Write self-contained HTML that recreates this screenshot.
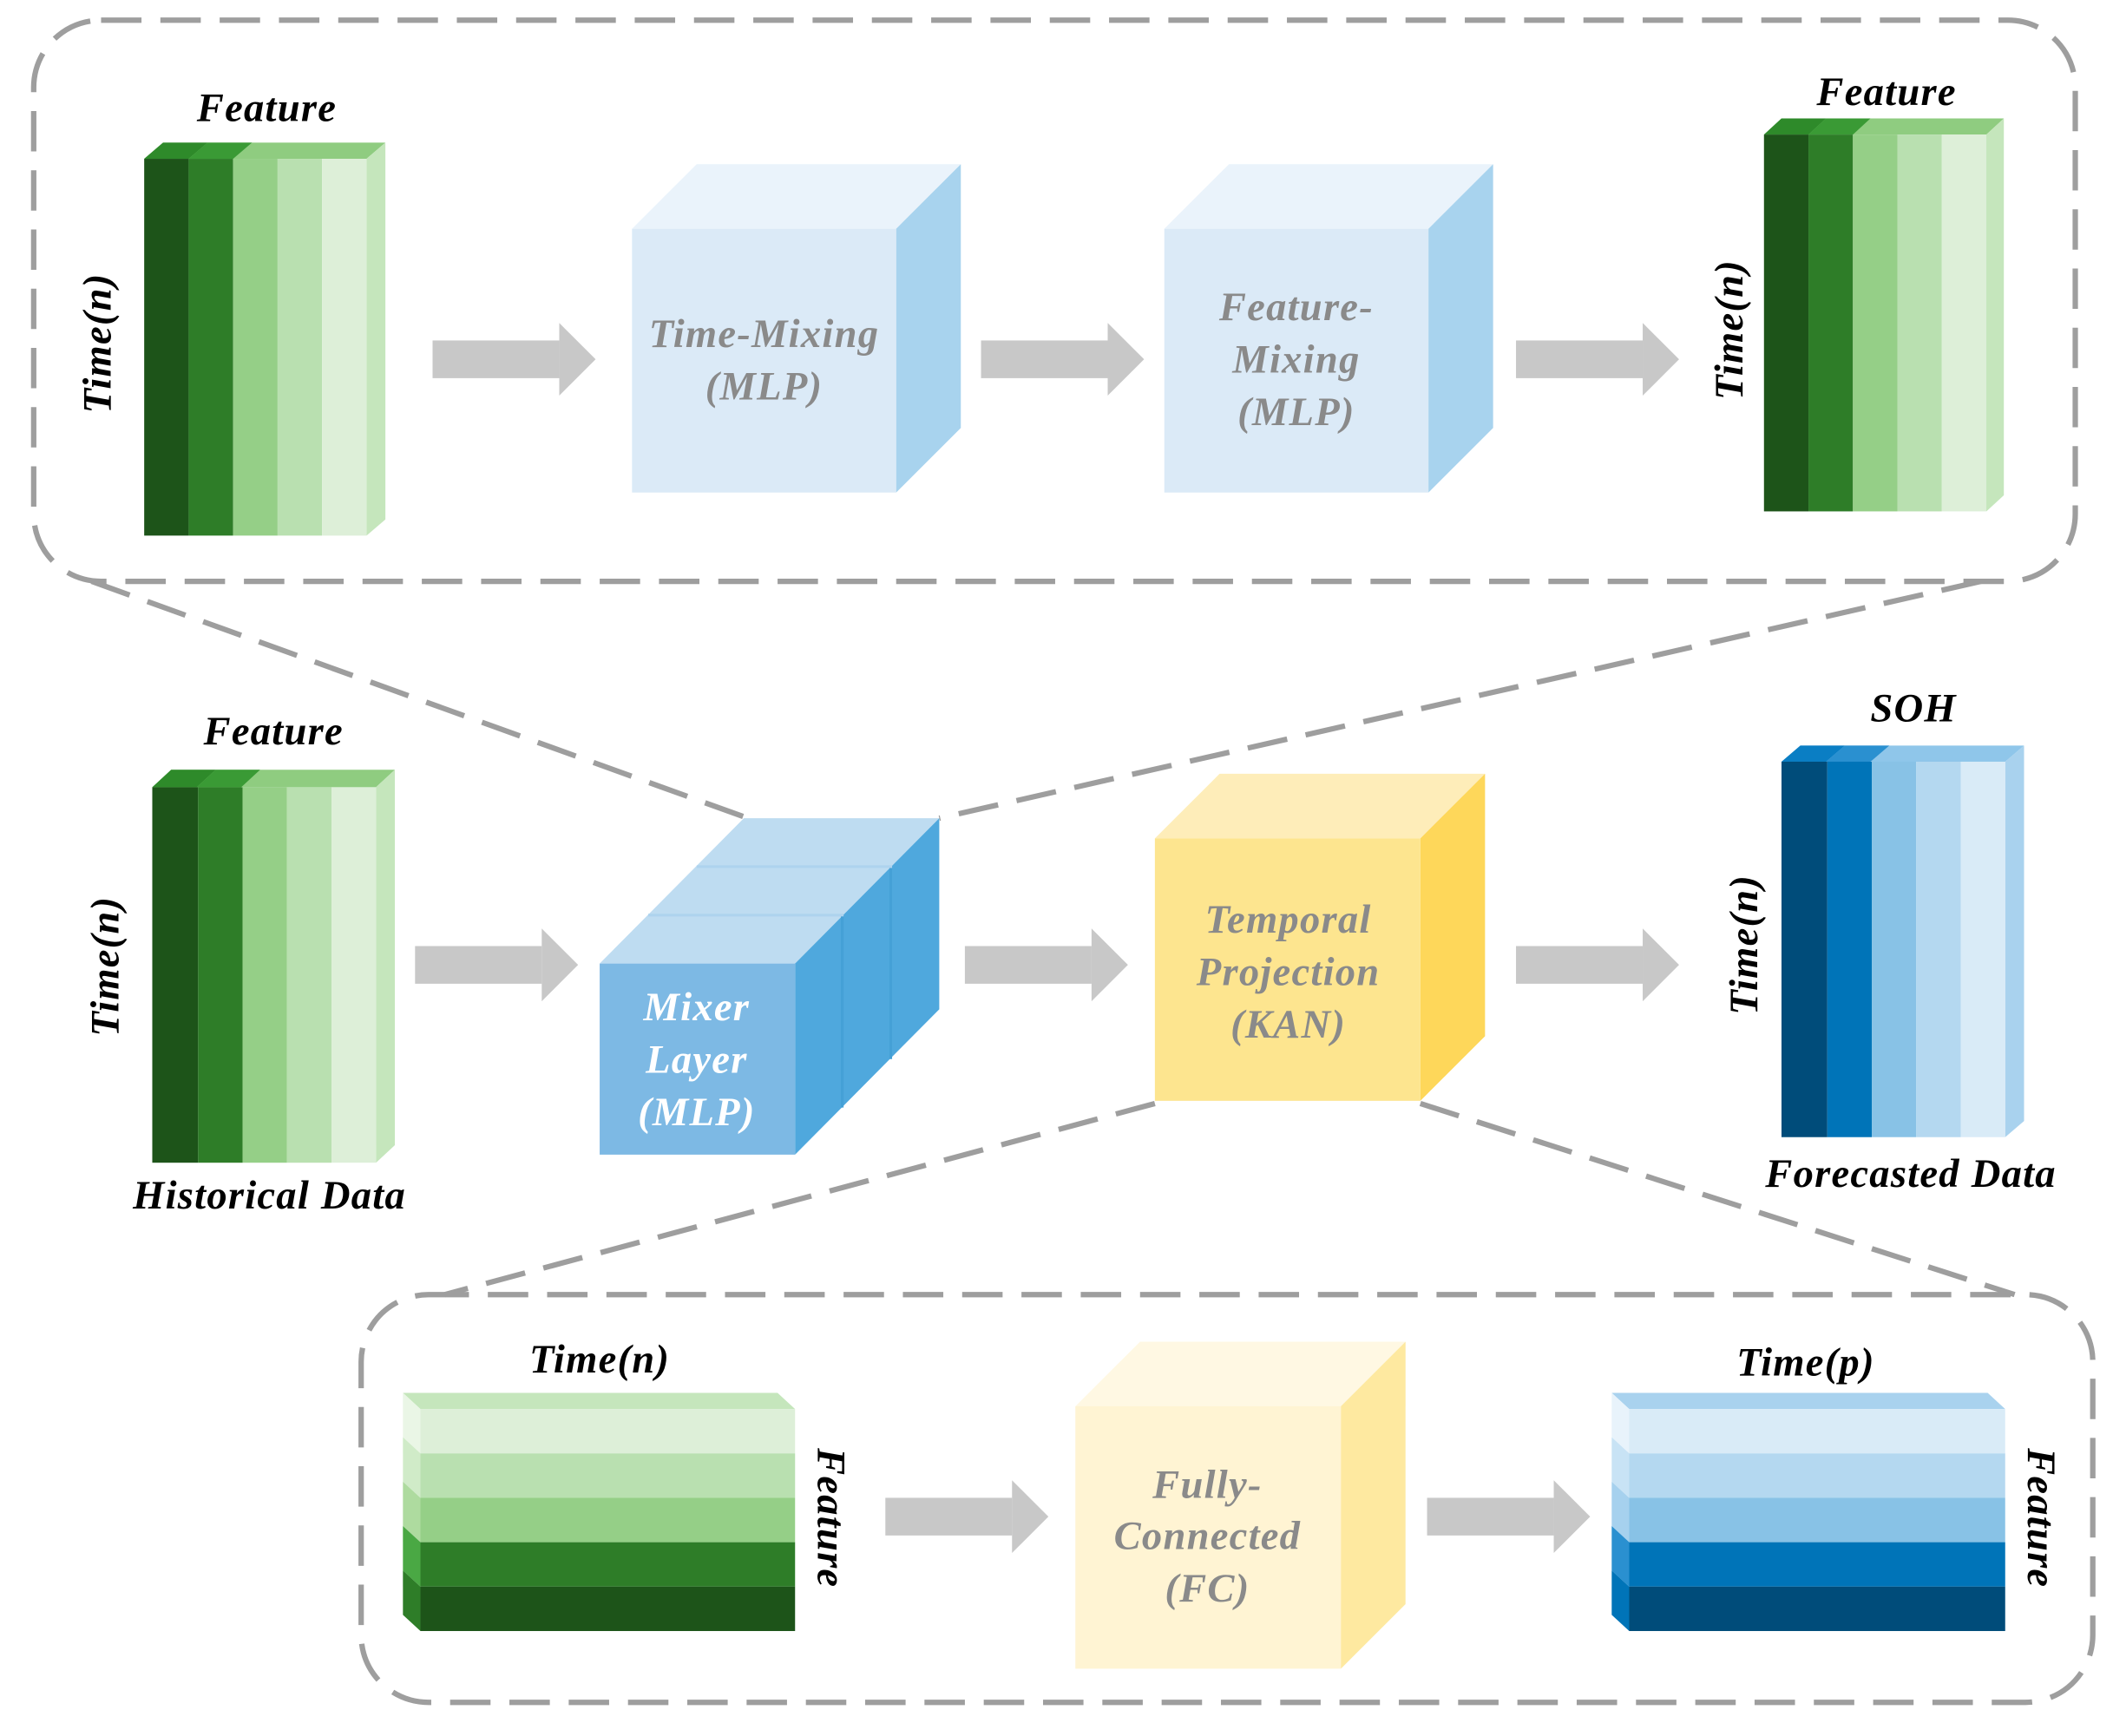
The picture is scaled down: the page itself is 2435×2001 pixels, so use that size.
<!DOCTYPE html>
<html><head><meta charset="utf-8"><style>
html,body{margin:0;padding:0;background:#fff}
svg{display:block}
text{font-family:"Liberation Serif",serif;font-style:italic;font-weight:bold;letter-spacing:0.8px}
</style></head><body>
<svg width="2435" height="2001" viewBox="0 0 1568 1290" preserveAspectRatio="none" xmlns="http://www.w3.org/2000/svg">
<defs>
<g id="arr"><rect x="0" y="-14" width="94" height="28" fill="#c8c8c8"/><polygon points="94,-27 121,0 94,27" fill="#c8c8c8"/></g>
</defs>
<g fill="none" stroke="#9e9e9e" stroke-width="4" stroke-dasharray="30 14">
<rect x="25" y="15" width="1515" height="417" rx="50"/>
<rect x="268" y="962" width="1285" height="303" rx="50"/>
<line x1="68" y1="432" x2="555" y2="608"/>
<line x1="1470" y1="432" x2="697" y2="608"/>
<line x1="857" y1="820" x2="330" y2="962"/>
<line x1="1054" y1="820" x2="1495" y2="962"/>
</g>

<g>
<polygon points="107,118 121,106 286,106 272,118" fill="#8fcc80"/>
<polygon points="107,118 121,106 154,106 140,118" fill="#2e8a2a"/>
<polygon points="140,118 154,106 187,106 173,118" fill="#3a9a35"/>
<polygon points="272,118 286,106 286,386 272,398" fill="#c5e6bc"/>
<rect x="107" y="118" width="33" height="280" fill="#1d5419"/>
<rect x="140" y="118" width="33" height="280" fill="#2e7d28"/>
<rect x="173" y="118" width="33" height="280" fill="#95cf87"/>
<rect x="206" y="118" width="33" height="280" fill="#b9e0b0"/>
<rect x="239" y="118" width="33" height="280" fill="#ddefd8"/>
</g>
<text x="198" y="90" font-size="30" text-anchor="middle">Feature</text>
<text transform="translate(82,255) rotate(-90)" font-size="30" text-anchor="middle">Time(n)</text>

<use href="#arr" x="321" y="267"/>
<polygon points="469,170 517,122 713,122 665,170" fill="#eaf3fb"/>
<polygon points="665,170 713,122 713,318 665,366" fill="#a8d3ee"/>
<rect x="469" y="170" width="196" height="196" fill="#dbeaf7"/>
<g fill="#8a8a8a" font-size="30" text-anchor="middle">
<text x="567" y="258">Time-Mixing</text><text x="567" y="297">(MLP)</text></g>

<use href="#arr" x="728" y="267"/>
<polygon points="864,170 912,122 1108,122 1060,170" fill="#eaf3fb"/>
<polygon points="1060,170 1108,122 1108,318 1060,366" fill="#a8d3ee"/>
<rect x="864" y="170" width="196" height="196" fill="#dbeaf7"/>
<g fill="#8a8a8a" font-size="30" text-anchor="middle">
<text x="962" y="238">Feature-</text><text x="962" y="277">Mixing</text><text x="962" y="316">(MLP)</text></g>

<use href="#arr" x="1125" y="267"/>
<g>
<polygon points="1309,100 1322,88 1487,88 1474,100" fill="#8fcc80"/>
<polygon points="1309,100 1322,88 1355,88 1342,100" fill="#2e8a2a"/>
<polygon points="1342,100 1355,88 1388,88 1375,100" fill="#3a9a35"/>
<polygon points="1474,100 1487,88 1487,368 1474,380" fill="#c5e6bc"/>
<rect x="1309" y="100" width="33" height="280" fill="#1d5419"/>
<rect x="1342" y="100" width="33" height="280" fill="#2e7d28"/>
<rect x="1375" y="100" width="33" height="280" fill="#95cf87"/>
<rect x="1408" y="100" width="33" height="280" fill="#b9e0b0"/>
<rect x="1441" y="100" width="33" height="280" fill="#ddefd8"/>
</g>
<text x="1400" y="78" font-size="30" text-anchor="middle">Feature</text>
<text transform="translate(1293,245) rotate(-90)" font-size="30" text-anchor="middle">Time(n)</text>

<g>
<polygon points="113,585 127,572 293,572 279,585" fill="#8fcc80"/>
<polygon points="113,585 127,572 160,572 146,585" fill="#2e8a2a"/>
<polygon points="146,585 160,572 193,572 179,585" fill="#3a9a35"/>
<polygon points="279,585 293,572 293,851 279,864" fill="#c5e6bc"/>
<rect x="113" y="585" width="34" height="279" fill="#1d5419"/>
<rect x="147" y="585" width="33" height="279" fill="#2e7d28"/>
<rect x="180" y="585" width="33" height="279" fill="#95cf87"/>
<rect x="213" y="585" width="33" height="279" fill="#b9e0b0"/>
<rect x="246" y="585" width="33" height="279" fill="#ddefd8"/>
</g>
<text x="203" y="553" font-size="30" text-anchor="middle">Feature</text>
<text x="200" y="898" font-size="30" text-anchor="middle">Historical Data</text>
<text transform="translate(88,718) rotate(-90)" font-size="30" text-anchor="middle">Time(n)</text>

<use href="#arr" x="308" y="717"/>
<polygon points="445,716 552,608 697,608 590,716" fill="#bedcf1"/>
<polygon points="590,716 697,608 697,750 590,858" fill="#4fa8dd"/>
<line x1="481" y1="680" x2="626" y2="680" stroke="#aed3ee" stroke-width="2"/>
<line x1="517" y1="644" x2="662" y2="644" stroke="#aed3ee" stroke-width="2"/>
<line x1="625" y1="681" x2="625" y2="823" stroke="#45a0d6" stroke-width="2"/>
<line x1="661" y1="645" x2="661" y2="787" stroke="#45a0d6" stroke-width="2"/>
<rect x="445" y="716" width="145" height="142" fill="#7db9e4"/>
<g fill="#fff" font-size="30" text-anchor="middle">
<text x="517" y="758">Mixer</text><text x="517" y="797">Layer</text><text x="517" y="836">(MLP)</text></g>

<use href="#arr" x="716" y="717"/>
<polygon points="857,623 905,575 1102,575 1054,623" fill="#feedb9"/>
<polygon points="1054,623 1102,575 1102,770 1054,818" fill="#fed75a"/>
<rect x="857" y="623" width="197" height="195" fill="#fde58f"/>
<g fill="#8a8a8a" font-size="30" text-anchor="middle">
<text x="956" y="693">Temporal</text><text x="956" y="732">Projection</text><text x="956" y="771">(KAN)</text></g>

<use href="#arr" x="1125" y="717"/>
<g>
<polygon points="1322,566 1336,554 1502,554 1488,566" fill="#8fc6ea"/>
<polygon points="1322,566 1336,554 1369,554 1355,566" fill="#0a7ec4"/>
<polygon points="1355,566 1369,554 1402,554 1388,566" fill="#2a90d0"/>
<polygon points="1488,566 1502,554 1502,833 1488,845" fill="#a9d2ee"/>
<rect x="1322" y="566" width="34" height="279" fill="#004c7a"/>
<rect x="1356" y="566" width="33" height="279" fill="#0074b8"/>
<rect x="1389" y="566" width="33" height="279" fill="#88c2e6"/>
<rect x="1422" y="566" width="33" height="279" fill="#b4d8f0"/>
<rect x="1455" y="566" width="33" height="279" fill="#d9ebf7"/>
</g>
<text x="1420" y="536" font-size="30" text-anchor="middle">SOH</text>
<text x="1418" y="882" font-size="30" text-anchor="middle">Forecasted Data</text>
<text transform="translate(1304,702) rotate(-90)" font-size="30" text-anchor="middle">Time(n)</text>

<g>
<polygon points="299,1035 577,1035 590,1047 312,1047" fill="#c5e6bc"/>
<polygon points="299,1035 312,1047 312,1080 299,1068" fill="#eaf6e6"/>
<polygon points="299,1068 312,1080 312,1113 299,1101" fill="#d0ebc8"/>
<polygon points="299,1101 312,1113 312,1146 299,1134" fill="#aedb9f"/>
<polygon points="299,1134 312,1146 312,1179 299,1167" fill="#4aa844"/>
<polygon points="299,1167 312,1179 312,1212 299,1200" fill="#2e7d28"/>
<rect x="312" y="1047" width="278" height="33" fill="#ddefd8"/>
<rect x="312" y="1080" width="278" height="33" fill="#b9e0b0"/>
<rect x="312" y="1113" width="278" height="33" fill="#95cf87"/>
<rect x="312" y="1146" width="278" height="33" fill="#2e7d28"/>
<rect x="312" y="1179" width="278" height="33" fill="#1d5419"/>
</g>
<text x="445" y="1020" font-size="30" text-anchor="middle">Time(n)</text>
<text transform="translate(607,1128) rotate(90)" font-size="30" text-anchor="middle">Feature</text>

<use href="#arr" x="657" y="1127"/>
<polygon points="798,1045 846,997 1043,997 995,1045" fill="#fff8e3"/>
<polygon points="995,1045 1043,997 1043,1192 995,1240" fill="#fee9a0"/>
<rect x="798" y="1045" width="197" height="195" fill="#fff4d3"/>
<g fill="#8a8a8a" font-size="30" text-anchor="middle">
<text x="896" y="1113">Fully-</text><text x="896" y="1151">Connected</text><text x="896" y="1190">(FC)</text></g>

<use href="#arr" x="1059" y="1127"/>
<g>
<polygon points="1196,1035 1475,1035 1488,1047 1209,1047" fill="#a9d2ee"/>
<polygon points="1196,1035 1209,1047 1209,1080 1196,1068" fill="#e8f3fb"/>
<polygon points="1196,1068 1209,1080 1209,1113 1196,1101" fill="#c8e3f5"/>
<polygon points="1196,1101 1209,1113 1209,1146 1196,1134" fill="#a6d1ee"/>
<polygon points="1196,1134 1209,1146 1209,1179 1196,1167" fill="#2a90d0"/>
<polygon points="1196,1167 1209,1179 1209,1212 1196,1200" fill="#0074b8"/>
<rect x="1209" y="1047" width="279" height="33" fill="#d9ebf7"/>
<rect x="1209" y="1080" width="279" height="33" fill="#b4d8f0"/>
<rect x="1209" y="1113" width="279" height="33" fill="#88c2e6"/>
<rect x="1209" y="1146" width="279" height="33" fill="#0074b8"/>
<rect x="1209" y="1179" width="279" height="33" fill="#004c7a"/>
</g>
<text x="1340" y="1022" font-size="30" text-anchor="middle">Time(p)</text>
<text transform="translate(1505,1128) rotate(90)" font-size="30" text-anchor="middle">Feature</text>
</svg>
</body></html>
